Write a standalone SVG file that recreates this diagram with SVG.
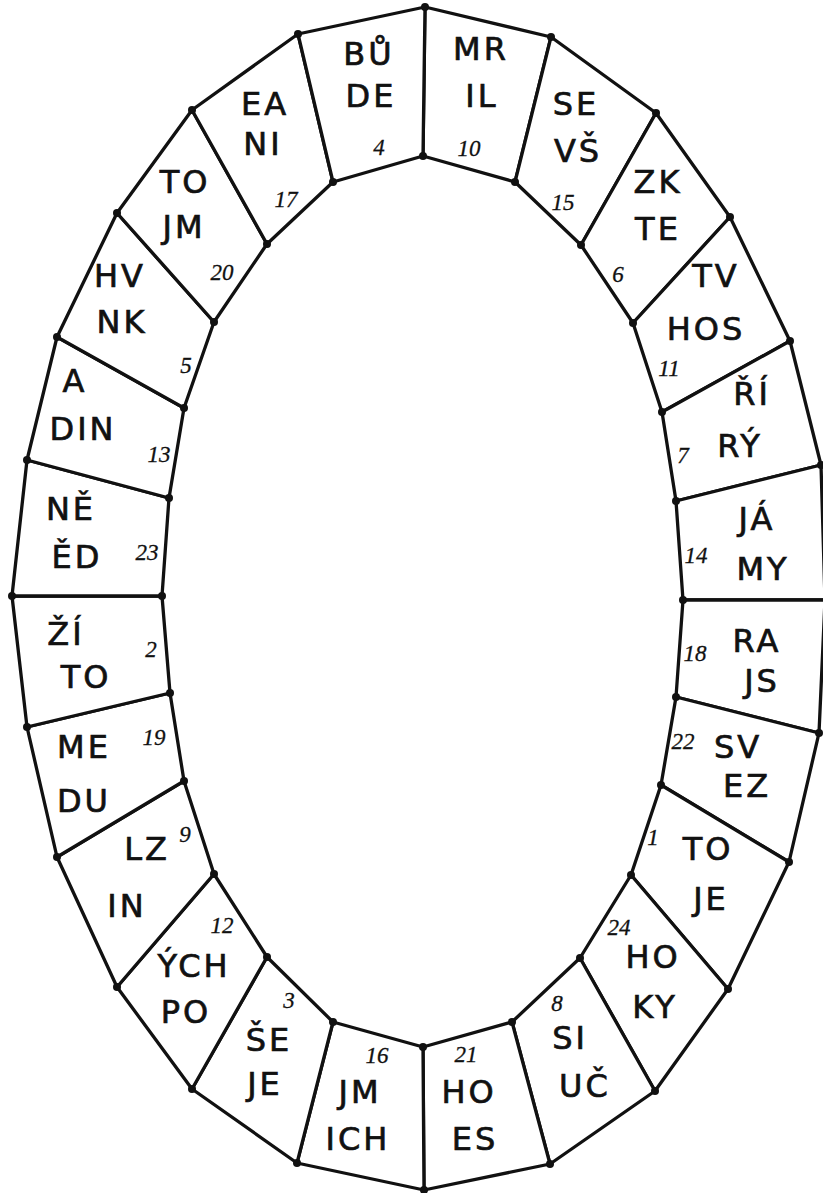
<svg xmlns="http://www.w3.org/2000/svg" width="823" height="1193" viewBox="0 0 823 1193">
<style>
.seg{fill:#fff;stroke:#111;stroke-width:3.3;stroke-linejoin:round}
.t{font-family:"DejaVu Sans",sans-serif;font-size:32px;fill:#111;stroke:#111;stroke-width:0.7;text-anchor:middle;letter-spacing:3px}
.n{font-family:"Liberation Serif",serif;font-style:italic;font-size:23px;fill:#111;stroke:#111;stroke-width:0.3;text-anchor:middle}
.d{fill:#111}
</style>
<rect width="823" height="1193" fill="#fff"/>
<g id="s0"><polygon class="seg" points="425,7 551,37 515,182 423,156"/><text class="t" x="481" y="60">MR</text><text class="t" x="482" y="107">IL</text><text class="n" x="469" y="156">10</text></g>
<g id="s1"><polygon class="seg" points="551,37 656,113 581,245 515,182"/><text class="t" x="576" y="115">SE</text><text class="t" x="578" y="162">VŠ</text><text class="n" x="563" y="210">15</text></g>
<g id="s2"><polygon class="seg" points="656,113 730,217 633,323 581,245"/><text class="t" x="658" y="193">ZK</text><text class="t" x="658" y="240">TE</text><text class="n" x="618" y="282">6</text></g>
<g id="s3"><polygon class="seg" points="730,217 790,341 662,412 633,323"/><text class="t" x="716" y="287">TV</text><text class="t" x="706" y="340">HOS</text><text class="n" x="669" y="376">11</text></g>
<g id="s4"><polygon class="seg" points="790,341 821,465 676,501 662,412"/><text class="t" x="752" y="405">ŘÍ</text><text class="t" x="740" y="457">RÝ</text><text class="n" x="683" y="463">7</text></g>
<g id="s5"><polygon class="seg" points="821,465 825,600 683,600 676,501"/><text class="t" x="757" y="530">JÁ</text><text class="t" x="763" y="580">MY</text><text class="n" x="696" y="563">14</text></g>
<g id="s6"><polygon class="seg" points="825,600 819,733 676,697 683,600"/><text class="t" x="757" y="652">RA</text><text class="t" x="762" y="692">JS</text><text class="n" x="695" y="661">18</text></g>
<g id="s7"><polygon class="seg" points="819,733 789,862 661,785 676,697"/><text class="t" x="738" y="758">SV</text><text class="t" x="747" y="797">EZ</text><text class="n" x="683" y="749">22</text></g>
<g id="s8"><polygon class="seg" points="789,862 728,989 631,875 661,785"/><text class="t" x="708" y="860">TO</text><text class="t" x="711" y="910">JE</text><text class="n" x="653" y="845">1</text></g>
<g id="s9"><polygon class="seg" points="728,989 655,1091 580,958 631,875"/><text class="t" x="653" y="968">HO</text><text class="t" x="655" y="1018">KY</text><text class="n" x="619" y="935">24</text></g>
<g id="s10"><polygon class="seg" points="655,1091 550,1164 512,1022 580,958"/><text class="t" x="570" y="1049">SI</text><text class="t" x="585" y="1097">UČ</text><text class="n" x="557" y="1011">8</text></g>
<g id="s11"><polygon class="seg" points="550,1164 424,1190 423,1047 512,1022"/><text class="t" x="469" y="1103">HO</text><text class="t" x="475" y="1150">ES</text><text class="n" x="466" y="1062">21</text></g>
<g id="s12"><polygon class="seg" points="424,1190 297,1163 333,1022 423,1047"/><text class="t" x="360" y="1103">JM</text><text class="t" x="358" y="1150">ICH</text><text class="n" x="377" y="1063">16</text></g>
<g id="s13"><polygon class="seg" points="297,1163 192,1089 267,957 333,1022"/><text class="t" x="269" y="1051">ŠE</text><text class="t" x="265" y="1095">JE</text><text class="n" x="289" y="1008">3</text></g>
<g id="s14"><polygon class="seg" points="192,1089 117,987 214,874 267,957"/><text class="t" x="194" y="977">ÝCH</text><text class="t" x="186" y="1023">PO</text><text class="n" x="222" y="933">12</text></g>
<g id="s15"><polygon class="seg" points="117,987 57,857 184,781 214,874"/><text class="t" x="147" y="860">LZ</text><text class="t" x="127" y="917">IN</text><text class="n" x="185" y="842">9</text></g>
<g id="s16"><polygon class="seg" points="57,857 27,727 170,693 184,781"/><text class="t" x="84" y="758">ME</text><text class="t" x="84" y="812">DU</text><text class="n" x="154" y="745">19</text></g>
<g id="s17"><polygon class="seg" points="27,727 12,596 162,596 170,693"/><text class="t" x="66" y="645">ŽÍ</text><text class="t" x="86" y="688">TO</text><text class="n" x="151" y="657">2</text></g>
<g id="s18"><polygon class="seg" points="12,596 27,460 169,498 162,596"/><text class="t" x="71" y="520">NĚ</text><text class="t" x="77" y="568">ĚD</text><text class="n" x="147" y="560">23</text></g>
<g id="s19"><polygon class="seg" points="27,460 57,337 184,408 169,498"/><text class="t" x="75" y="392">A</text><text class="t" x="83" y="440">DIN</text><text class="n" x="159" y="462">13</text></g>
<g id="s20"><polygon class="seg" points="57,337 117,213 214,322 184,408"/><text class="t" x="120" y="287">HV</text><text class="t" x="122" y="333">NK</text><text class="n" x="186" y="373">5</text></g>
<g id="s21"><polygon class="seg" points="117,213 192,110 267,244 214,322"/><text class="t" x="185" y="193">TO</text><text class="t" x="184" y="238">JM</text><text class="n" x="222" y="280">20</text></g>
<g id="s22"><polygon class="seg" points="192,110 298,34 333,182 267,244"/><text class="t" x="265" y="115">EA</text><text class="t" x="263" y="155">NI</text><text class="n" x="286" y="207">17</text></g>
<g id="s23"><polygon class="seg" points="298,34 425,7 423,156 333,182"/><text class="t" x="369" y="65">BŮ</text><text class="t" x="371" y="107">DE</text><text class="n" x="379" y="155">4</text></g>
<g id="dots" class="d">
<circle cx="425" cy="7" r="4"/><circle cx="551" cy="37" r="4"/><circle cx="656" cy="113" r="4"/><circle cx="730" cy="217" r="4"/><circle cx="790" cy="341" r="4"/><circle cx="821" cy="465" r="4"/><circle cx="819" cy="733" r="4"/><circle cx="789" cy="862" r="4"/><circle cx="728" cy="989" r="4"/><circle cx="655" cy="1091" r="4"/><circle cx="550" cy="1164" r="4"/><circle cx="424" cy="1190" r="4"/><circle cx="297" cy="1163" r="4"/><circle cx="192" cy="1089" r="4"/><circle cx="117" cy="987" r="4"/><circle cx="57" cy="857" r="4"/><circle cx="27" cy="727" r="4"/><circle cx="12" cy="596" r="4"/><circle cx="27" cy="460" r="4"/><circle cx="57" cy="337" r="4"/><circle cx="117" cy="213" r="4"/><circle cx="192" cy="110" r="4"/><circle cx="298" cy="34" r="4"/>
<circle cx="423" cy="156" r="4"/><circle cx="515" cy="182" r="4"/><circle cx="581" cy="245" r="4"/><circle cx="633" cy="323" r="4"/><circle cx="662" cy="412" r="4"/><circle cx="676" cy="501" r="4"/><circle cx="683" cy="600" r="4"/><circle cx="676" cy="697" r="4"/><circle cx="661" cy="785" r="4"/><circle cx="631" cy="875" r="4"/><circle cx="580" cy="958" r="4"/><circle cx="512" cy="1022" r="4"/><circle cx="423" cy="1047" r="4"/><circle cx="333" cy="1022" r="4"/><circle cx="267" cy="957" r="4"/><circle cx="214" cy="874" r="4"/><circle cx="184" cy="781" r="4"/><circle cx="170" cy="693" r="4"/><circle cx="162" cy="596" r="4"/><circle cx="169" cy="498" r="4"/><circle cx="184" cy="408" r="4"/><circle cx="214" cy="322" r="4"/><circle cx="267" cy="244" r="4"/><circle cx="333" cy="182" r="4"/>
</g>
</svg>
